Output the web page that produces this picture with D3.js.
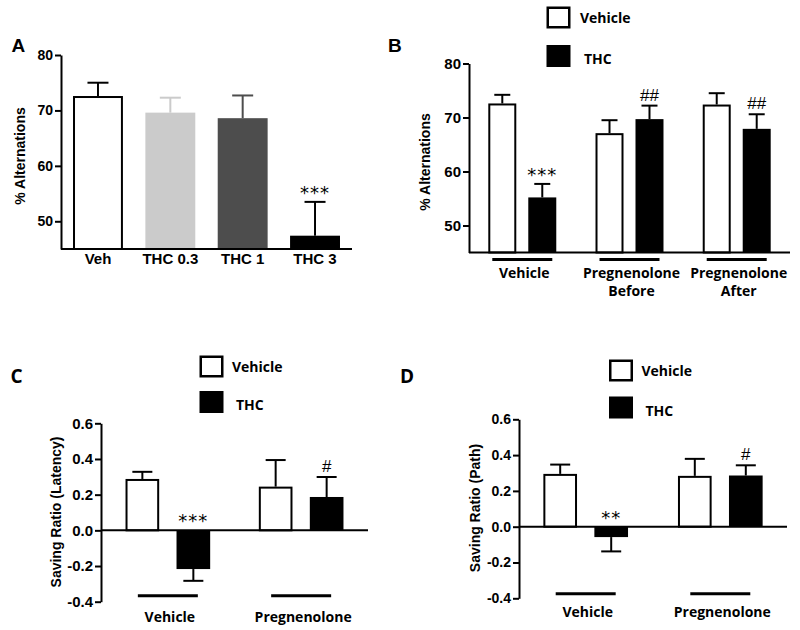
<!DOCTYPE html>
<html><head><meta charset="utf-8">
<script src="https://cdn.jsdelivr.net/npm/d3@7"></script>
<style>html,body{margin:0;padding:0;background:#fff} svg{display:block}</style>
</head><body>
<svg id="chart" width="800" height="630"></svg>
<script>
// ---------------- DATA ----------------
const seriesNames = ["Vehicle", "THC"];

// Panel A
const aCategories = ["Veh", "THC 0.3", "THC 1", "THC 3"];
const aValues = [72.6, 69.6, 68.6, 47.4];
const aErrors = [2.4, 2.7, 4.1, 6.1];
const aSignif = ["", "", "", "***"];
const aTicks = [50, 60, 70, 80];
const aColors = ["#ffffff", "#cbcbcb", "#4d4d4d", "#000000"];

// Panel B
const bGroups = [["Vehicle"], ["Pregnenolone", "Before"], ["Pregnenolone", "After"]];
const bVehicle = [72.6, 67.1, 72.4];
const bVehicleErr = [1.6, 2.4, 2.1];
const bTHC = [55.2, 69.7, 67.9];
const bTHCErr = [2.5, 2.5, 2.7];
const bSignif = ["***", "##", "##"];
const bTicks = [50, 60, 70, 80];

// Panel C
const cGroups = [["Vehicle"], ["Pregnenolone"]];
const cVehicle = [0.288, 0.245];
const cVehicleErr = [0.040, 0.149];
const cTHC = [-0.217, 0.187];
const cTHCErr = [0.066, 0.112];
const cSignif = ["***", "#"];
const cTicks = [-0.4, -0.2, 0.0, 0.2, 0.4, 0.6];

// Panel D
const dGroups = [["Vehicle"], ["Pregnenolone"]];
const dVehicle = [0.295, 0.284];
const dVehicleErr = [0.052, 0.095];
const dTHC = [-0.058, 0.286];
const dTHCErr = [0.080, 0.057];
const dSignif = ["**", "#"];
const dTicks = [-0.4, -0.2, 0.0, 0.2, 0.4, 0.6];

// ---------------- DRAWING ----------------
const svg = d3.select("#chart");
svg.append("rect").attr("width", 800).attr("height", 630).attr("fill", "#fff");

const ARIAL = "'Liberation Sans', Arial, sans-serif";
const CALI = "'Open Sans', 'Noto Sans', sans-serif";
const STAR = "'DejaVu Sans', sans-serif";

function yAxis(g, y, ticks, fmt, fontSize) {
  const ax = d3.axisLeft(y).tickValues(ticks).tickFormat(fmt).tickSize(6).tickSizeOuter(0).tickPadding(2);
  g.call(ax);
  g.select(".domain").attr("stroke", "#000").attr("stroke-width", 2);
  g.selectAll(".tick line").attr("stroke", "#000").attr("stroke-width", 2);
  g.selectAll(".tick text").attr("font-family", ARIAL).attr("font-weight", "bold")
    .attr("font-size", fontSize).attr("fill", "#000");
}

function drawBar(g, x, w, y0px, y1px, fill) {
  const top = Math.min(y0px, y1px), bot = Math.max(y0px, y1px);
  if (fill === "#ffffff") {
    g.append("rect").attr("x", x + 1).attr("y", top + 1).attr("width", w - 2).attr("height", bot - top - 1)
      .attr("fill", "#fff").attr("stroke", "#000").attr("stroke-width", 2);
  } else {
    g.append("rect").attr("x", x).attr("y", top).attr("width", w).attr("height", bot - top)
      .attr("fill", fill);
  }
}

function drawErr(g, cx, yFrom, yTo, cap, color) {
  g.append("line").attr("x1", cx).attr("x2", cx).attr("y1", yFrom).attr("y2", yTo)
    .attr("stroke", color).attr("stroke-width", 2);
  g.append("line").attr("x1", cx - cap / 2).attr("x2", cx + cap / 2).attr("y1", yTo).attr("y2", yTo)
    .attr("stroke", color).attr("stroke-width", 2);
}

function signif(g, cx, yBase, txt) {
  if (!txt) return;
  const isHash = txt.indexOf("#") >= 0;
  g.append("text").attr("x", cx).attr("y", yBase - (isHash ? 5 : 3))
    .attr("text-anchor", "middle").attr("font-family", isHash ? ARIAL : STAR)
    .attr("font-size", isHash ? 17 : 18)
    .attr("letter-spacing", isHash ? 0 : 1)
    .attr("fill", "#000").text(txt);
}

function letter(text, x, y, font, size) {
  svg.append("text").attr("x", x).attr("y", y).attr("font-family", font).attr("font-weight", "bold")
    .attr("font-size", size).attr("fill", "#000").text(text);
}

function yTitle(text, x, y) {
  svg.append("text").attr("transform", `translate(${x},${y}) rotate(-90)`)
    .attr("text-anchor", "middle").attr("font-family", ARIAL).attr("font-weight", "bold")
    .attr("font-size", 14).attr("fill", "#000").text(text);
}

function legend(bx, by, gap, tx) {
  const g = svg.append("g");
  g.append("rect").attr("x", bx + 1.25).attr("y", by + 1.25).attr("width", 21.5).attr("height", 19.5)
    .attr("fill", "#fff").attr("stroke", "#000").attr("stroke-width", 2.5);
  g.append("rect").attr("x", bx).attr("y", by + gap).attr("width", 24).attr("height", 22).attr("fill", "#000");
  g.append("text").attr("x", bx + tx).attr("y", by + 16).attr("font-family", CALI).attr("font-weight", "bold")
    .attr("font-size", 14).attr("fill", "#000").text(seriesNames[0]);
  g.append("text").attr("x", bx + tx + 4).attr("y", by + gap + 19).attr("font-family", CALI).attr("font-weight", "bold")
    .attr("font-size", 14).attr("fill", "#000").text(seriesNames[1]);
}

// ----- Panel A -----
(function () {
  const y = d3.scaleLinear().domain([45, 80]).range([249, 55]);
  const x = d3.scaleBand().domain(aCategories).range([61, 352]).paddingInner(0.31).paddingOuter(0.166);
  const g = svg.append("g");
  aCategories.forEach((c, i) => {
    const bx = x(c), bw = x.bandwidth(), cx = bx + bw / 2;
    const errColor = aColors[i] === "#ffffff" ? "#000" : aColors[i];
    drawErr(g, cx, y(aValues[i]), y(aValues[i] + aErrors[i]), 21, errColor);
    drawBar(g, bx, bw, y(aValues[i]), y(45), aColors[i]);
    signif(g, cx, y(aValues[i] + aErrors[i]), aSignif[i]);
    g.append("text").attr("x", cx).attr("y", 264).attr("text-anchor", "middle")
      .attr("font-family", ARIAL).attr("font-weight", "bold").attr("font-size", 15).attr("fill", "#000").text(c);
  });
  g.append("line").attr("x1", 61).attr("x2", 352).attr("y1", y(45)).attr("y2", y(45))
    .attr("stroke", "#000").attr("stroke-width", 2);
  yAxis(svg.append("g").attr("transform", "translate(61,0)"), y, aTicks, d3.format("d"), 14);
  yTitle("% Alternations", 25, 156);
  letter("A", 11.5, 52, ARIAL, 19);
})();

// ----- grouped panels -----
function grouped(cfg) {
  const y = d3.scaleLinear().domain(cfg.domain).range(cfg.yRange);
  const gKeys = cfg.groups.map((d, i) => i);
  const x = d3.scaleBand().domain(gKeys).range([cfg.x0, cfg.x1]).paddingInner(cfg.pi).paddingOuter(cfg.po);
  const xi = d3.scaleBand().domain(seriesNames).range([0, x.bandwidth()]).paddingInner(cfg.pii);
  const g = svg.append("g");
  const series = [
    { name: seriesNames[0], vals: cfg.veh, errs: cfg.vehErr, fill: "#ffffff", sig: null },
    { name: seriesNames[1], vals: cfg.thc, errs: cfg.thcErr, fill: "#000000", sig: cfg.signif }
  ];
  const base = cfg.base;
  gKeys.forEach(gi => {
    series.forEach(s => {
      const bx = x(gi) + xi(s.name), bw = xi.bandwidth(), cx = bx + bw / 2;
      const v = s.vals[gi], e = s.errs[gi];
      const tip = v >= 0 ? v + e : v - e;
      drawErr(g, cx, y(v), y(tip), cfg.cap, "#000");
      drawBar(g, bx, bw, y(v), y(base), s.fill);
      if (s.sig) {
        signif(g, cx, v >= 0 ? y(tip) : y(0), s.sig[gi]);
      }
    });
    const gc = x(gi) + x.bandwidth() / 2;
    g.append("line").attr("x1", gc - 30).attr("x2", gc + 30).attr("y1", cfg.ulY).attr("y2", cfg.ulY)
      .attr("stroke", "#000").attr("stroke-width", 3);
    cfg.groups[gi].forEach((ln, li) => {
      g.append("text").attr("x", gc + 2).attr("y", cfg.labY + li * 18).attr("text-anchor", "middle")
        .attr("font-family", CALI).attr("font-weight", "bold").attr("font-size", 14).attr("fill", "#000").text(ln);
    });
  });
  g.append("line").attr("x1", cfg.x0).attr("x2", cfg.x1).attr("y1", y(base)).attr("y2", y(base))
    .attr("stroke", "#000").attr("stroke-width", 2);
  yAxis(svg.append("g").attr("transform", `translate(${cfg.x0},0)`), y, cfg.ticks, cfg.fmt, cfg.tickFont);
}

grouped({
  domain: [45, 80], yRange: [252.5, 63.5], x0: 469, x1: 790, pi: 0.366, po: 0.18, pii: 0.3,
  groups: bGroups, veh: bVehicle, vehErr: bVehicleErr, thc: bTHC, thcErr: bTHCErr, signif: bSignif,
  base: 45, cap: 16, ulY: 259.5, labY: 277.5, ticks: bTicks, fmt: d3.format("d"), tickFont: 15
});
yTitle("% Alternations", 430, 162);
letter("B", 388, 52.3, ARIAL, 19);
legend(546.5, 6.5, 38.5, 33.5);

grouped({
  domain: [-0.4, 0.6], yRange: [601.7, 423.3], x0: 101, x1: 368, pi: 0.365, po: 0.184, pii: 0.34,
  groups: cGroups, veh: cVehicle, vehErr: cVehicleErr, thc: cTHC, thcErr: cTHCErr, signif: cSignif,
  base: 0, cap: 20, ulY: 595.7, labY: 621.7, ticks: cTicks, fmt: d => d.toFixed(1), tickFont: 15
});
yTitle("Saving Ratio (Latency)", 61, 512);
letter("C", 10.5, 383.3, CALI, 19);
legend(199.5, 355.5, 35.5, 32.5);

grouped({
  domain: [-0.4, 0.6], yRange: [598.3, 419.3], x0: 519, x1: 787, pi: 0.371, po: 0.181, pii: 0.34,
  groups: dGroups, veh: dVehicle, vehErr: dVehicleErr, thc: dTHC, thcErr: dTHCErr, signif: dSignif,
  base: 0, cap: 20, ulY: 593.7, labY: 616.7, ticks: dTicks, fmt: d => d.toFixed(1), tickFont: 14
});
yTitle("Saving Ratio (Path)", 480, 508);
letter("D", 400, 383.3, CALI, 19);
legend(609, 359.5, 37, 32.5);
</script>
</body></html>
